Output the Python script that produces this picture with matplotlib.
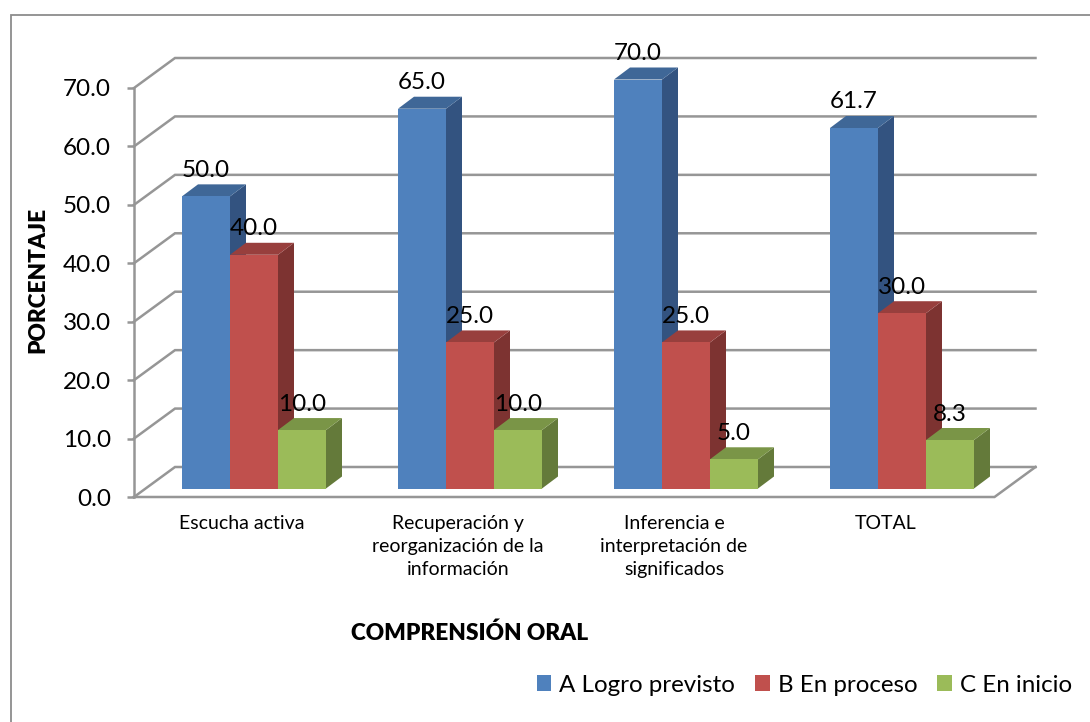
import matplotlib
matplotlib.use("Agg")
import matplotlib.pyplot as plt
from matplotlib.lines import Line2D
from matplotlib.patches import Polygon
from matplotlib.transforms import Affine2D

categories = ["Escucha activa",
              "Recuperación y\nreorganización de la\ninformación",
              "Inferencia e\ninterpretación de\nsignificados",
              "TOTAL"]
series_names = ["A Logro previsto", "B En proceso", "C En inicio"]
logro = [50.0, 65.0, 70.0, 61.7]
proceso = [40.0, 25.0, 25.0, 30.0]
inicio = [10.0, 10.0, 5.0, 8.3]
y_ticks = [0, 10, 20, 30, 40, 50, 60, 70]
front_colors = ["#4F81BD", "#C0504D", "#9BBB59"]
top_colors = ["#3F6797", "#983F3D", "#7A9547"]
side_colors = ["#335380", "#7D3331", "#647A3A"]

W, H = 1090, 722
GRID = "#969696"
plt.rcParams["font.family"] = ["Lato", "DejaVu Sans"]

fig = plt.figure(figsize=(W / 100, H / 100), dpi=100, facecolor="white")
fig.add_artist(Line2D([10.5 / W, 10.5 / W, 1], [0, 1 - 15 / H, 1 - 15 / H],
                      transform=fig.transFigure, color="#8C8C8C", linewidth=1.3,
                      solid_joinstyle="miter"))

ax = fig.add_axes([134 / W, 1 - 497 / H, 864 / W, 409 / H])
ax.set_xlim(0, 4)
ax.set_ylim(0, 70)
ax.patch.set_alpha(0)
for s in ["top", "right", "bottom"]:
    ax.spines[s].set_visible(False)
ax.spines["left"].set_color(GRID)
ax.spines["left"].set_linewidth(1.8)
ax.spines["left"].set_zorder(1)

px = 4 / 864            # data units of x per pixel
py = 70 / 409           # data units of y per pixel

# back wall grid lines and floor
wall_dx, wall_dy = 41 * px, 30 * py
xmax = 860.5 * px
for v in y_ticks:
    ax.plot([0, wall_dx, xmax + wall_dx], [v, v + wall_dy, v + wall_dy],
            color=GRID, lw=1.8, clip_on=False, zorder=1, solid_joinstyle="miter")
ax.plot([0, xmax, xmax + wall_dx], [0, 0, wall_dy], color=GRID, lw=1.8,
        clip_on=False, zorder=1, solid_joinstyle="miter")

# bars, standing a little behind the front edge of the floor
bar_tr = ax.transData + Affine2D().translate(11.5, 8.5)
bar_w = 48 * px
gap = 36.5 * px
dep_x, dep_y = 16 * px, 12 * py
z = 3
for i in range(len(categories)):
    for k, vals in enumerate([logro, proceso, inicio]):
        v = vals[i]
        x0 = i + gap + k * bar_w
        x1 = x0 + bar_w
        ax.add_patch(Polygon([(x1, 0), (x1 + dep_x, dep_y), (x1 + dep_x, v + dep_y), (x1, v)],
                             closed=True, facecolor=side_colors[k], edgecolor="none",
                             transform=bar_tr, clip_on=False, zorder=z))
        ax.add_patch(Polygon([(x0, v), (x1, v), (x1 + dep_x, v + dep_y), (x0 + dep_x, v + dep_y)],
                             closed=True, facecolor=top_colors[k], edgecolor="none",
                             transform=bar_tr, clip_on=False, zorder=z))
        ax.bar(x0, v, width=bar_w, align="edge", color=front_colors[k],
               label=series_names[k] if i == 0 else None,
               transform=bar_tr, clip_on=False, zorder=z)
        ax.annotate(f"{v:.1f}", xy=(x0 + bar_w / 2, v), xycoords=bar_tr,
                    xytext=(0, 26 * 0.72), textcoords="offset points",
                    ha="center", va="center", fontsize=17.5, color="black", zorder=100,
                    annotation_clip=False)
        z += 1
ax.set_xlim(0, 4)
ax.set_ylim(0, 70)

ax.set_yticks(y_ticks)
ax.set_yticklabels([f"{v:.1f}" for v in y_ticks], fontsize=17.5)
ax.tick_params(axis="y", length=5, width=1.8, color=GRID, pad=11.5)
ax.set_xticks([0.5, 1.5, 2.5, 3.48])
ax.set_xticklabels(categories, fontsize=14, linespacing=1.42)
ax.tick_params(axis="x", length=0, pad=13)

fig.text(38 / W, 1 - 280 / H, "PORCENTAJE", rotation=90, ha="center", va="center",
         fontsize=16.3, fontweight=800)
fig.text(470 / W, 1 - 633 / H, "COMPRENSIÓN ORAL", ha="center", va="center",
         fontsize=16.3, fontweight=800)

handles, labels = ax.get_legend_handles_labels()
fig.legend(handles, labels, ncol=3, loc="center right",
           bbox_to_anchor=(1072 / W, 1 - 685 / H), frameon=False, fontsize=17.4,
           handlelength=0.6, handleheight=0.6, handletextpad=0.33, columnspacing=0.83,
           borderpad=0, borderaxespad=0)

fig.savefig("out.png", dpi=100, facecolor="white")
